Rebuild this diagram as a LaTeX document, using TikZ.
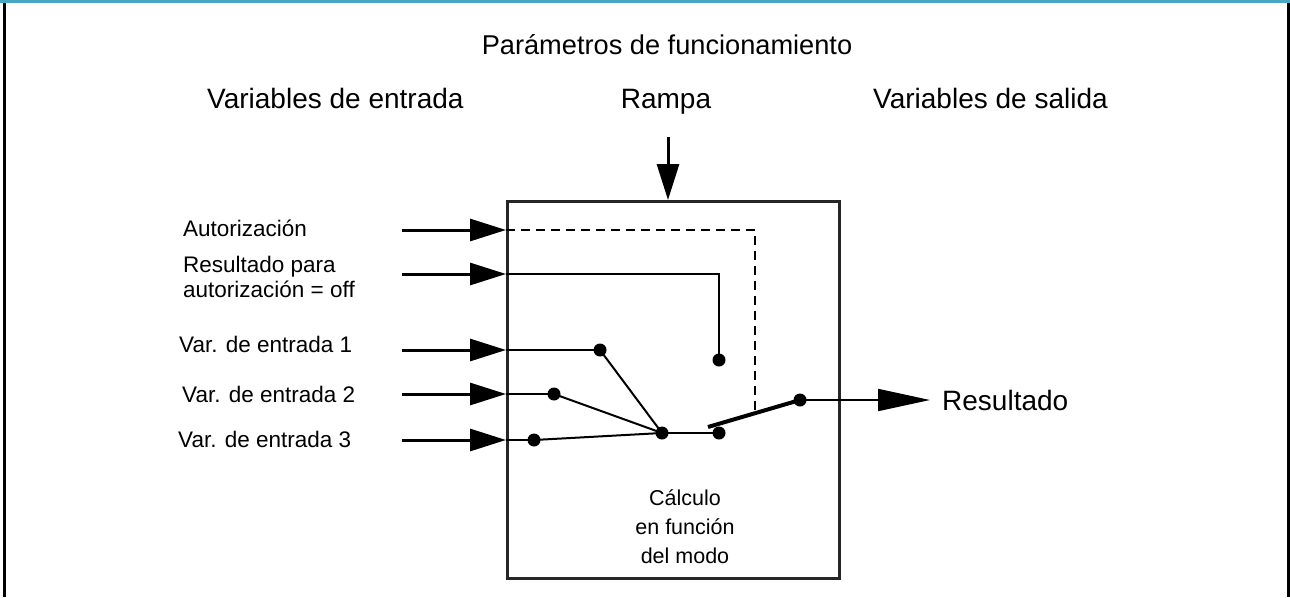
\documentclass[tikz,border=0pt]{standalone}
\usepackage{fontspec}
\setmainfont{Liberation Sans}
\usetikzlibrary{arrows.meta}
\definecolor{frameblue}{RGB}{75,165,196}
\begin{document}
\begin{tikzpicture}[x=1pt,y=-1pt,
  big/.style={font=\fontsize{28}{32}\selectfont, inner sep=0pt, anchor=base},
  lab/.style={font=\fontsize{22.5}{25}\selectfont, inner sep=0pt, anchor=base west, align=left},
  dotst/.style={circle, fill=black, inner sep=0pt, minimum size=13pt},
  inarrow/.style={line width=3pt, -{Triangle[length=36pt,width=22pt]}},
  outarrow/.style={line width=2pt, -{Triangle[length=52pt,width=22pt]}},
  wire/.style={line width=2pt},
  lever/.style={line width=4pt},
  dashwire/.style={line width=2.5pt, dash pattern=on 9pt off 6pt},
  boxst/.style={draw=black!85, line width=2.5pt, inner sep=0pt, fill=none},
]
\useasboundingbox (0,0) rectangle (1290,597);
% frame
\fill[frameblue] (0,0) rectangle (1290,3);
\fill[black] (3,3) rectangle (5.5,597);
\fill[black] (1287,3) rectangle (1289.5,597);

% main box
\node[boxst, minimum width=332pt, minimum height=377pt, anchor=north west] (box) at (506,200) {};

% headings
\node[big, font=\fontsize{27.2}{32}\selectfont] (title) at (667,54) {Parámetros de funcionamiento};
\node[big, anchor=base west] (vin) at (207,108) {Variables de entrada};
\node[big] (rampa) at (666,108) {Rampa};
\node[big, anchor=base west] (vout) at (873,108) {Variables de salida};

% input labels
\node[lab] (lauth) at (183,236) {Autorización};
\node[lab] (lres) at (183,297) {Resultado para\\autorización = off};
\node[lab] (lv1) at (179,352) {Var. de entrada 1};
\node[lab] (lv2) at (182,402) {Var. de entrada 2};
\node[lab] (lv3) at (178,447) {Var. de entrada 3};

% inside text
\node[font=\fontsize{21.5}{29}\selectfont, align=center, anchor=base, inner sep=0pt] (calc) at (685,563) {Cálculo\\en función\\del modo};

% output label
\node[big, anchor=base west] (res) at (942,410) {Resultado};

% coordinates
\coordinate (a1) at (402,230);
\coordinate (a2) at (402,274);
\coordinate (a3) at (402,350);
\coordinate (a4) at (402,394);
\coordinate (a5) at (402,440);
\coordinate (r0) at (668,137);
\coordinate (dc) at (755,230);
\coordinate (dend) at (755,413);
\coordinate (rc) at (719,274);
\coordinate (lv) at (708,427);
\coordinate (out) at (930,400);

% dots
\node[dotst] (d1) at (600,350) {};
\node[dotst] (d2) at (554,394) {};
\node[dotst] (d3) at (534,440) {};
\node[dotst] (hub) at (662,433) {};
\node[dotst] (sw) at (719,433) {};
\node[dotst] (off) at (719,360) {};
\node[dotst] (s2) at (800,400) {};

% input arrows
\draw[inarrow] (a1) -- (a1 -| box.west);
\draw[inarrow] (a2) -- (a2 -| box.west);
\draw[inarrow] (a3) -- (a3 -| box.west);
\draw[inarrow] (a4) -- (a4 -| box.west);
\draw[inarrow] (a5) -- (a5 -| box.west);
\draw[inarrow] (r0) -- (r0 |- box.north);

% internal wiring
\draw[dashwire] (a1 -| box.west) -- (dc) -- (dend);
\draw[wire] (a2 -| box.west) -- (rc) -- (off.center);
\draw[wire] (a3 -| box.west) -- (d1.center);
\draw[wire] (a4 -| box.west) -- (d2.center);
\draw[wire] (a5 -| box.west) -- (d3.center);
\draw[wire] (d1.center) -- (hub.center);
\draw[wire] (d2.center) -- (hub.center);
\draw[wire] (d3.center) -- (hub.center);
\draw[wire] (hub.center) -- (sw.center);
\draw[lever] (lv) -- (s2.center);
\draw[outarrow] (s2.center) -- (out);
\end{tikzpicture}
\end{document}
